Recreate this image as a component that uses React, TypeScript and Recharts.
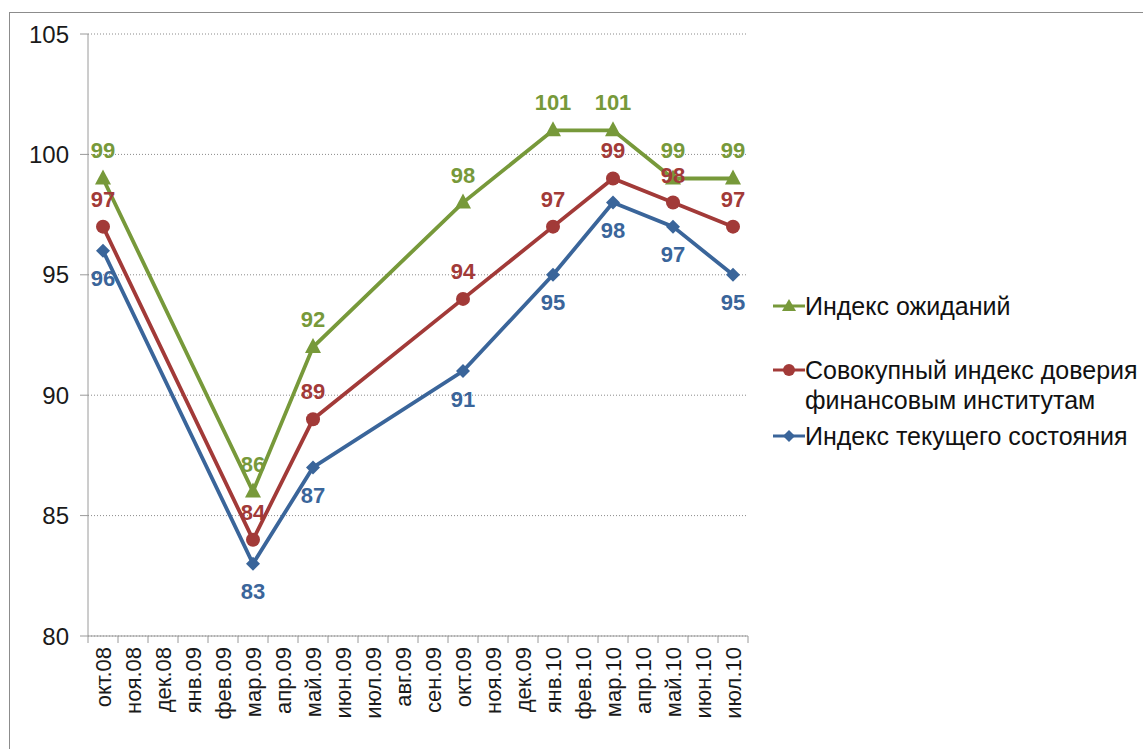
import React from 'react';
import { LineChart, Line, XAxis, YAxis, CartesianGrid, LabelList } from 'recharts';

const months = [
  'окт.08', 'ноя.08', 'дек.08', 'янв.09', 'фев.09', 'мар.09', 'апр.09', 'май.09',
  'июн.09', 'июл.09', 'авг.09', 'сен.09', 'окт.09', 'ноя.09', 'дек.09', 'янв.10',
  'фев.10', 'мар.10', 'апр.10', 'май.10', 'июн.10', 'июл.10'
];
const expectations = [99, null, null, null, null, 86, null, 92, null, null, null, null, 98, null, null, 101, null, 101, null, 99, null, 99];
const trust = [97, null, null, null, null, 84, null, 89, null, null, null, null, 94, null, null, 97, null, 99, null, 98, null, 97];
const current = [96, null, null, null, null, 83, null, 87, null, null, null, null, 91, null, null, 95, null, 98, null, 97, null, 95];
const yTicks = [80, 85, 90, 95, 100, 105];

const GREEN = '#77993A';
const RED = '#A23A38';
const BLUE = '#3A659A';
const FONT = '"Liberation Sans", Arial, sans-serif';

const data = months.map((m, i) => ({
  month: m,
  exp: expectations[i],
  trust: trust[i],
  cur: current[i]
}));

const Triangle = ({ cx, cy }: any) =>
  cx == null || cy == null ? null : (
    <polygon points={`${cx},${cy - 9} ${cx + 8},${cy + 6} ${cx - 8},${cy + 6}`} fill={GREEN} />
  );
const Circle = ({ cx, cy }: any) =>
  cx == null || cy == null ? null : <circle cx={cx} cy={cy} r={7} fill={RED} />;
const Diamond = ({ cx, cy }: any) =>
  cx == null || cy == null ? null : (
    <polygon points={`${cx},${cy - 7} ${cx + 7},${cy} ${cx},${cy + 7} ${cx - 7},${cy}`} fill={BLUE} />
  );

const MonthTick = (props: any) => {
  const { x, y, payload, width, visibleTicksCount, index } = props;
  const half = width / visibleTicksCount / 2;
  return (
    <g>
      <line x1={x - half} y1={y} x2={x - half} y2={y + 7} stroke="#9a9a9a" />
      {index === visibleTicksCount - 1 && (
        <line x1={x + half} y1={y} x2={x + half} y2={y + 7} stroke="#9a9a9a" />
      )}
      <text
        x={x}
        y={y + 11}
        transform={`rotate(-90, ${x}, ${y + 11})`}
        textAnchor="end"
        dominantBaseline="central"
        fontSize={22}
        fontFamily={FONT}
        fill="#1a1a1a"
      >
        {payload.value}
      </text>
    </g>
  );
};

const labelStyle = { fontSize: 22, fontWeight: 'bold' as const, fontFamily: FONT };

const legendItems = [
  { name: ['Индекс ожиданий'], color: GREEN, top: 291, shape: 'tri' },
  { name: ['Совокупный индекс доверия', 'финансовым институтам'], color: RED, top: 355, shape: 'circ' },
  { name: ['Индекс текущего состояния'], color: BLUE, top: 421, shape: 'dia' }
];

const LegendIcon = ({ color, shape }: { color: string; shape: string }) => (
  <svg width={32} height={16} style={{ display: 'block' }}>
    <line x1={0} y1={8} x2={32} y2={8} stroke={color} strokeWidth={3} />
    {shape === 'tri' && <polygon points="16,1 23,13 9,13" fill={color} />}
    {shape === 'circ' && <circle cx={16} cy={8} r={6} fill={color} />}
    {shape === 'dia' && <polygon points="16,2 22,8 16,14 10,8" fill={color} />}
  </svg>
);

export default function App() {
  return (
    <div style={{ position: 'absolute', left: 0, top: 0, width: 1143, height: 749, background: '#fff', overflow: 'hidden' }}>
      <div style={{ position: 'absolute', left: 9, top: 12, width: 1150, height: 760, border: '1px solid #8c8c8c' }} />
      <div style={{ position: 'absolute', left: 0, top: 0 }}>
        <LineChart width={1143} height={749} data={data} margin={{ top: 34, right: 395, left: 0, bottom: 13 }}>
          <CartesianGrid vertical={false} stroke="#8a8a8a" strokeDasharray="1 2" />
          <XAxis
            dataKey="month"
            scale="band"
            interval={0}
            height={100}
            tickLine={false}
            tickSize={0}
            tickMargin={0}
            axisLine={{ stroke: '#9a9a9a' }}
            tick={<MonthTick />}
          />
          <YAxis
            width={88}
            domain={[80, 105]}
            ticks={yTicks}
            interval={0}
            tickSize={8}
            tickMargin={11}
            axisLine={{ stroke: '#9a9a9a' }}
            tickLine={{ stroke: '#9a9a9a' }}
            tick={{ fontSize: 24, fontFamily: FONT, fill: '#1a1a1a' }}
          />
          <Line
            dataKey="exp"
            stroke={GREEN}
            strokeWidth={3.8}
            connectNulls
            dot={<Triangle />}
            activeDot={false}
            isAnimationActive={false}
          >
            <LabelList dataKey="exp" position="top" offset={20} fill={GREEN} style={labelStyle} />
          </Line>
          <Line
            dataKey="trust"
            stroke={RED}
            strokeWidth={3.8}
            connectNulls
            dot={<Circle />}
            activeDot={false}
            isAnimationActive={false}
          >
            <LabelList dataKey="trust" position="top" offset={20} fill={RED} style={labelStyle} />
          </Line>
          <Line
            dataKey="cur"
            stroke={BLUE}
            strokeWidth={3.8}
            connectNulls
            dot={<Diamond />}
            activeDot={false}
            isAnimationActive={false}
          >
            <LabelList dataKey="cur" position="bottom" offset={20} fill={BLUE} style={labelStyle} />
          </Line>
        </LineChart>
      </div>
      {legendItems.map((it) => (
        <div
          key={it.name[0]}
          style={{ position: 'absolute', left: 773, top: it.top, fontFamily: FONT, fontSize: 25, color: '#111', lineHeight: '30px', whiteSpace: 'nowrap' }}
        >
          {it.name.map((line, i) => (
            <div key={i} style={{ display: 'flex', alignItems: 'center' }}>
              <div style={{ width: 32 }}>{i === 0 && <LegendIcon color={it.color} shape={it.shape} />}</div>
              <span>{line}</span>
            </div>
          ))}
        </div>
      ))}
    </div>
  );
}
